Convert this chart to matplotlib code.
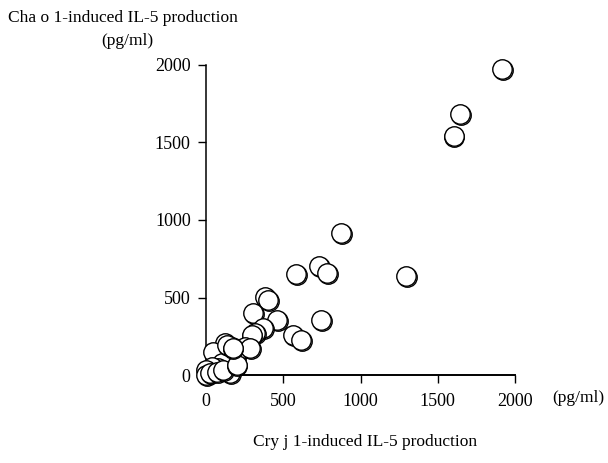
import matplotlib
matplotlib.use("Agg")
import matplotlib.pyplot as plt
import matplotlib.transforms as mtransforms

plt.rcParams['font.family'] = ['Liberation Serif', 'DejaVu Serif']

# Cry j 1-induced (x) vs Cha o 1-induced (y) IL-5 production, pg/ml
cry_j1 = [1918, 1645, 1602, 1292, 872, 732, 786, 583, 745, 381, 400,
          306, 457, 370, 317, 564, 618, 295, 252, 187, 166, 123, 47,
          155, 101, 80, 37, 0, 0, 26, 69, 112, 198, 284, 134, 172]
cha_o1 = [1974, 1684, 1544, 639, 918, 705, 660, 652, 355, 505, 484,
          398, 355, 301, 269, 258, 226, 258, 183, 118, 183, 204, 150,
          11, 75, 43, 54, 32, 0, 11, 21, 32, 65, 176, 194, 172]

x_ticks = [0, 500, 1000, 1500, 2000]
y_ticks = [0, 500, 1000, 1500, 2000]

fig = plt.figure(figsize=(6.08, 4.63), dpi=100)
ax = fig.add_axes([206 / 608, 88 / 463, 309 / 608, 310 / 463])

# thin shadow ring offset down-right, then the open circle on top
shadow = mtransforms.offset_copy(ax.transData, fig=fig, x=0.9, y=-0.9, units='dots')
for i, (cx, cy) in enumerate(zip(cry_j1, cha_o1)):
    ax.plot([cx], [cy], 'o', ms=14, mfc='none', mec='black', mew=1.0,
            transform=shadow, clip_on=False, zorder=3 + 2 * i)
    ax.plot([cx], [cy], 'o', ms=14, mfc='white', mec='black', mew=1.0,
            clip_on=False, zorder=4 + 2 * i)

ax.set_xlim(0, 2000)
ax.set_ylim(0, 2000)
ax.set_xticks(x_ticks)
ax.set_yticks(y_ticks)
ax.spines['top'].set_visible(False)
ax.spines['right'].set_visible(False)
ax.spines['left'].set_linewidth(1.1)
ax.spines['bottom'].set_linewidth(1.4)
ax.tick_params(axis='x', direction='out', length=6, width=1, pad=7, labelsize=13)
ax.tick_params(axis='y', direction='out', length=6, width=1, pad=5, labelsize=13)

fig.text(8 / 608, 1 - 18 / 463, 'Cha o 1-induced IL-5 production',
         fontsize=12.5, ha='left', va='center')
fig.text(127 / 608, 1 - 41 / 463, '(pg/ml)', fontsize=12.5, ha='center', va='center')
fig.text(552 / 608, 1 - 398 / 463, '(pg/ml)', fontsize=12.5, ha='left', va='center')
fig.text(365 / 608, 1 - 442 / 463, 'Cry j 1-induced IL-5 production',
         fontsize=12.5, ha='center', va='center')

fig.savefig('out.png', dpi=100)
